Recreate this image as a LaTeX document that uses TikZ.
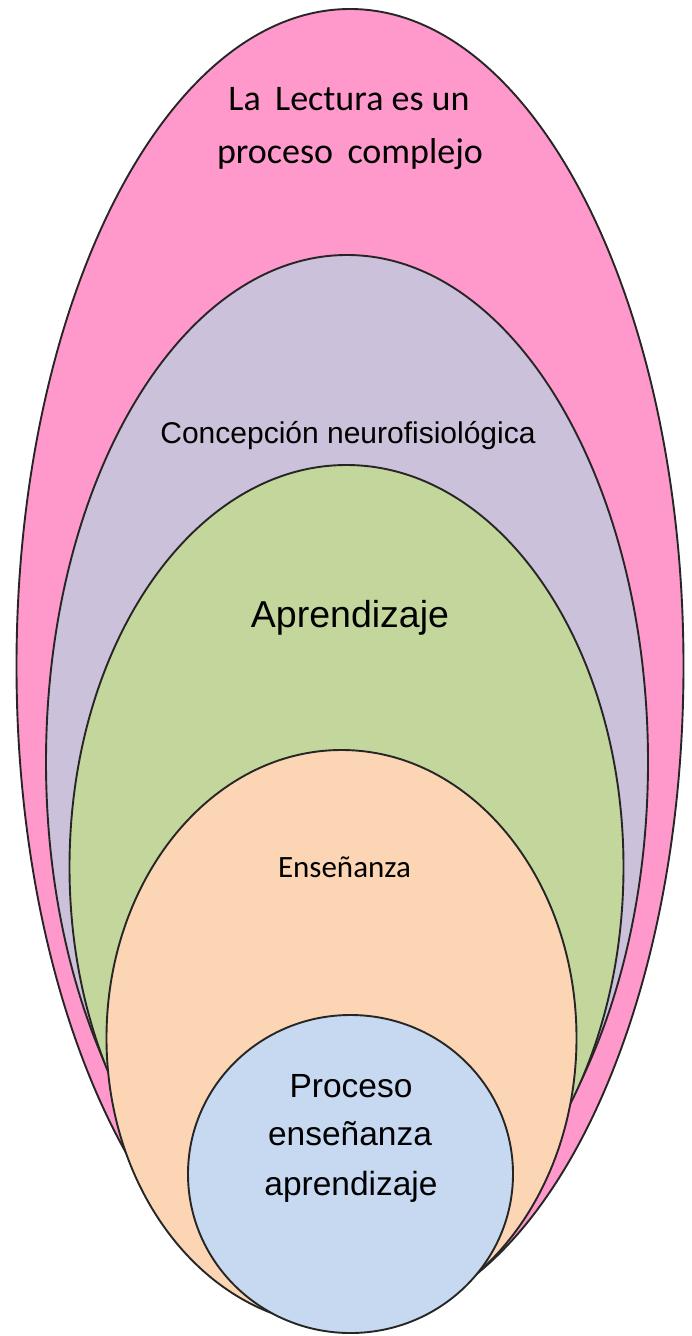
\documentclass[tikz,border=0pt]{standalone}
\usepackage{fontspec}
\setmainfont{Liberation Sans}
\newfontfamily\calfont{Carlito}
\usetikzlibrary{shapes.geometric}
\definecolor{pinkf}{HTML}{FF99CC}
\definecolor{purplef}{HTML}{CCC1DA}
\definecolor{greenf}{HTML}{C3D69B}
\definecolor{orangef}{HTML}{FCD5B5}
\definecolor{bluef}{HTML}{C6D9F1}
\begin{document}
\begin{tikzpicture}[x=1pt,y=-1pt,
  oval/.style={ellipse, draw=black!85, line width=1.9pt, inner sep=0pt, outer sep=0pt},
  lbl/.style={inner sep=0pt, anchor=base, text=black}]
\useasboundingbox (0,0) rectangle (691,1336);
\node[oval, fill=pinkf,   minimum width=667pt, minimum height=1314pt] (lectura) at (350,666) {};
\node[oval, fill=purplef, minimum width=602pt, minimum height=1014pt] (concep) at (347,762) {};
\node[oval, fill=greenf,  minimum width=554pt, minimum height=804pt] (aprend) at (346.5,867) {};
\node[oval, fill=orangef, minimum width=470pt, minimum height=576pt] (ensen) at (341.5,1038) {};
\node[oval, fill=bluef,   minimum width=325pt, minimum height=318pt] (proc) at (350.5,1174) {};
% labels
\node[lbl, font=\calfont\fontsize{36}{40}\selectfont] (t1) at (349,110) {La\hspace{0.4em}Lectura es un};
\node[lbl, font=\calfont\fontsize{36}{40}\selectfont] (t2) at (350,163) {proceso\hspace{0.4em}complejo};
\node[lbl, font=\fontsize{30}{34}\selectfont] (t3) at (348,443) {Concepción neurofisiológica};
\node[lbl, font=\fontsize{37.5}{40}\selectfont] (t4) at (350,627) {Aprendizaje};
\node[lbl, font=\calfont\fontsize{31}{34}\selectfont] (t5) at (344.5,877) {Enseñanza};
\node[lbl, font=\fontsize{33.5}{36}\selectfont] (t6) at (351,1097) {Proceso};
\node[lbl, font=\fontsize{33.5}{36}\selectfont] (t7) at (350,1145) {enseñanza};
\node[lbl, font=\fontsize{33.5}{36}\selectfont] (t8) at (351,1195) {aprendizaje};
\end{tikzpicture}
\end{document}
